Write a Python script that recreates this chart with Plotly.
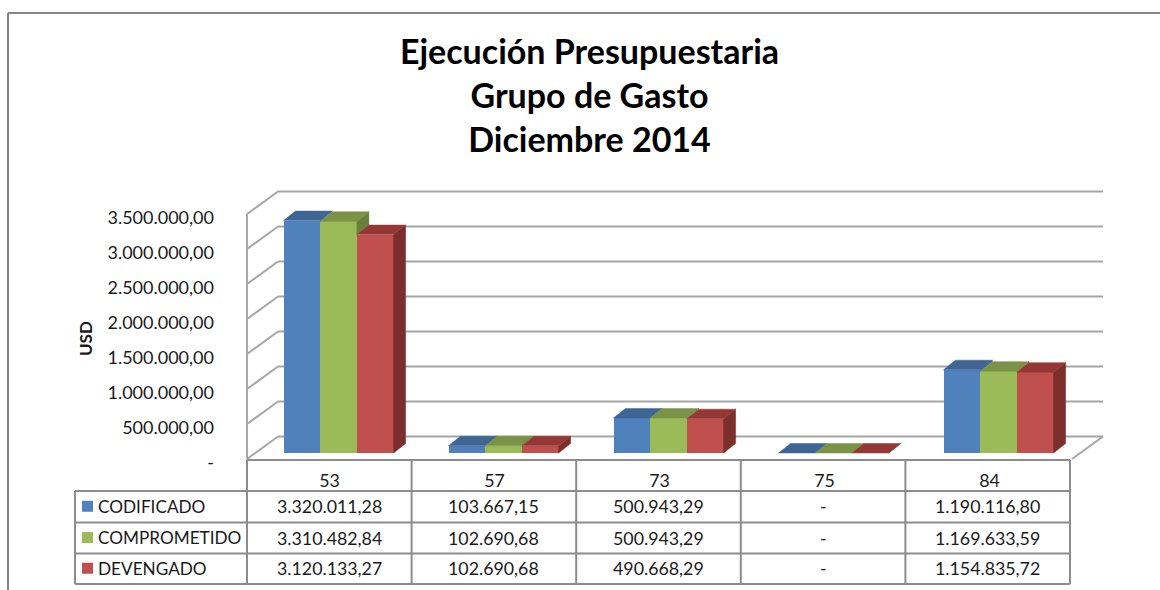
import plotly.graph_objects as go

# ---- data ----
categories = ["53", "57", "73", "75", "84"]
codificado = [3320011.28, 103667.15, 500943.29, 0, 1190116.80]
comprometido = [3310482.84, 102690.68, 500943.29, 0, 1169633.59]
devengado = [3120133.27, 102690.68, 490668.29, 0, 1154835.72]
series_names = ["CODIFICADO", "COMPROMETIDO", "DEVENGADO"]
axis_values = [0, 500000, 1000000, 1500000, 2000000, 2500000, 3000000, 3500000]
title_lines = ["Ejecución Presupuestaria", "Grupo de Gasto", "Diciembre 2014"]
y_title = "USD"

# ---- style ----
front_colors = ["#4F81BD", "#9BBB59", "#C0504D"]
top_colors = ["#3F6594", "#7A9346", "#953835"]
side_colors = ["#385D8A", "#68803A", "#7B2F2D"]
GRID = "#A6A6A6"
TABLE = "#8C8C8C"
FRAME = "#868686"
FONT = "Lato"
TEXT = "#1A1A1A"
W, H = 1160, 590

# pixel geometry of the projected box
X0, COL = 247.0, 165.0      # front-left corner and category width
TABLE_COL = 164.6
Y0, TOP = 459.0, 214.0      # front floor / front wall top
PER_VAL = (Y0 - TOP) / axis_values[-1]
WALL_DX, WALL_DY = 31.0, 22.5
BAR_IN_DY = 6.0
BAR_DX, BAR_DY = 12.0, 9.5
BAR_W = 36.7
BAR_PAD = 36.5


def ux(px):
    return px / COL


def uy(px):
    return px / PER_VAL


def pfx(px):
    return px / W


def pfy(py):
    return 1 - py / H


series = [codificado, comprometido, devengado]
fig = go.Figure()
shapes = []
annotations = []

# back wall grid, side-wall diagonals
back_x0, back_x1 = ux(WALL_DX), len(categories) + ux(WALL_DX)
grid_line = dict(color=GRID, width=2)
for v in axis_values:
    vb = v + uy(WALL_DY)
    shapes.append(dict(type="line", xref="x", yref="y", x0=back_x0, x1=back_x1, y0=vb, y1=vb,
                       layer="below", line=grid_line))
    shapes.append(dict(type="line", xref="x", yref="y", x0=0, x1=back_x0, y0=v, y1=vb,
                       layer="below", line=grid_line))
shapes.append(dict(type="line", xref="x", yref="y", x0=0, x1=0, y0=0, y1=axis_values[-1],
                   layer="below", line=grid_line))
shapes.append(dict(type="line", xref="x", yref="y", x0=len(categories), x1=back_x1, y0=0, y1=uy(WALL_DY),
                   layer="below", line=grid_line))

# front faces through real bars
base = uy(BAR_IN_DY)
for s, vals in enumerate(series):
    fig.add_trace(go.Bar(
        x=[i + ux(BAR_PAD + s * BAR_W) for i in range(len(categories))],
        y=vals, base=[base] * len(vals), width=[ux(BAR_W)] * len(vals), offset=0,
        name=series_names[s], marker=dict(color=front_colors[s], line=dict(width=0)),
        showlegend=False, hovertemplate=series_names[s] + ": %{y:,.2f}<extra></extra>"))


def poly(xs, ys, color):
    fig.add_trace(go.Scatter(x=xs + xs[:1], y=ys + ys[:1], mode="lines", fill="toself",
                             fillcolor=color, line=dict(color=color, width=0.5),
                             showlegend=False, hoverinfo="skip"))


# depth faces, left to right, so nearer series overlay correctly
ddx, ddy = ux(BAR_DX), uy(BAR_DY)
for i in range(len(categories)):
    for s, vals in enumerate(series):
        v = vals[i] + base
        xl = i + ux(BAR_PAD + s * BAR_W)
        xr = xl + ux(BAR_W)
        floor_v = series[s + 1][i] + base if s < 2 else base
        if v > floor_v or s == 2:
            poly([xr, xr + ddx, xr + ddx, xr], [v, v + ddy, floor_v + ddy, floor_v], side_colors[s])
        poly([xl, xr, xr + ddx, xl + ddx], [v, v, v + ddy, v + ddy], top_colors[s])


def fmt(v):
    if v == 0:
        return "-"
    return f"{v:,.2f}".replace(",", "#").replace(".", ",").replace("#", ".")


def text(px, py, s, size=17.8, anchor="center", bold=False, angle=0):
    annotations.append(dict(xref="paper", yref="paper", x=pfx(px), y=pfy(py), text=f"<b>{s}</b>" if bold else s,
                            showarrow=False, xanchor=anchor, yanchor="middle", textangle=angle,
                            font=dict(family=FONT, size=size, color=TEXT)))


def pline(x0, y0, x1, y1, color=TABLE, width=2):
    shapes.append(dict(type="line", xref="paper", yref="paper", x0=pfx(x0), x1=pfx(x1), y0=pfy(y0), y1=pfy(y1),
                       line=dict(color=color, width=width)))


# outer frame of the picture
pline(8, 13, W, 13, FRAME)
pline(8, 13, 8, H, FRAME)

# data table
RX = [X0 + TABLE_COL * i for i in range(len(categories) + 1)]
LEFT = 75
ROWS = [460, 491, 522.5, 553.5, 584]
pline(X0, ROWS[0], RX[-1], ROWS[0])
for y in ROWS[1:]:
    pline(LEFT, y, RX[-1], y)
pline(LEFT, ROWS[1], LEFT, ROWS[-1])
for x in RX:
    pline(x, ROWS[0], x, ROWS[-1])
for s, vals in enumerate(series):
    yc = (ROWS[s + 1] + ROWS[s + 2]) / 2
    shapes.append(dict(type="rect", xref="paper", yref="paper", x0=pfx(82), x1=pfx(93), y0=pfy(yc - 6), y1=pfy(yc + 5),
                       fillcolor=front_colors[s], line=dict(width=0)))
    text(96, yc - 0.5, series_names[s], size=17.2, anchor="left")
    for i, v in enumerate(vals):
        text(X0 + TABLE_COL * (i + 0.5), yc - 0.5, fmt(v))

text(85, 338, y_title, size=17, bold=True, angle=-90)

fig.update_layout(
    width=W, height=H, autosize=False,
    margin=dict(l=0, r=0, t=0, b=0, pad=0),
    paper_bgcolor="white", plot_bgcolor="white",
    barmode="overlay", bargap=0,
    shapes=shapes, annotations=annotations, showlegend=False,
    title=dict(text="<br>".join(f"<b>{t}</b>" for t in title_lines),
               x=589.5 / W, xanchor="center", y=1 - 64 / H, yanchor="top",
               font=dict(family=FONT, size=34, color="#000000")),
    xaxis=dict(range=[ux(-X0), ux(W - X0)], domain=[0, 1], anchor="free", position=pfy(ROWS[0]),
               tickmode="array", tickvals=[i + 0.5 for i in range(len(categories))], ticktext=categories,
               showgrid=False, zeroline=False, showline=False, ticks="", ticklabelstandoff=8,
               tickfont=dict(family=FONT, size=17.8, color=TEXT), fixedrange=True),
    yaxis=dict(range=[uy(Y0 - H), uy(Y0)], domain=[0, 1], anchor="free", position=pfx(X0),
               tickmode="array", tickvals=axis_values, ticktext=[fmt(v) for v in axis_values],
               showgrid=False, zeroline=False, showline=False, ticks="", ticklabelstandoff=33,
               ticklabelshift=4,
               tickfont=dict(family=FONT, size=18, color=TEXT), fixedrange=True),
)
fig.write_html("out.html", config={"displayModeBar": False},
               post_script="document.body.style.margin='0';document.body.style.overflow='hidden';")
